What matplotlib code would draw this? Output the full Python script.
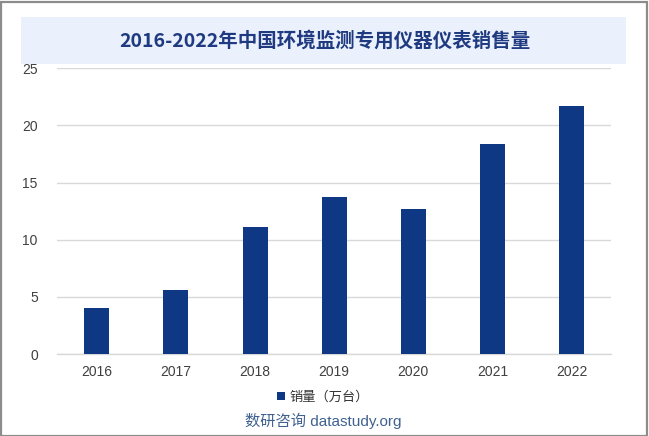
import matplotlib
matplotlib.use("Agg")
import matplotlib.pyplot as plt
from matplotlib.patches import Rectangle

plt.rcParams['font.family'] = ['Liberation Sans', 'Noto Sans CJK SC', 'DejaVu Sans']

years = ["2016", "2017", "2018", "2019", "2020", "2021", "2022"]
sales = [4.0, 5.6, 11.1, 13.7, 12.7, 18.4, 21.7]
yticks = [0, 5, 10, 15, 20, 25]
title = "2016-2022年中国环境监测专用仪器仪表销售量"
legend_label = "销量（万台）"
watermark = "数研咨询 datastudy.org"

W, H = 649, 436
fig = plt.figure(figsize=(W / 100, H / 100), dpi=100)
fig.patch.set_facecolor("white")

# outer border
fig.patches.append(Rectangle((0.5 / W, 0.5 / H), 1 - 2.5 / W, 1 - 2.5 / H, transform=fig.transFigure,
                             fill=False, edgecolor="#8c8c8c", linewidth=1.6))
# title band
fig.patches.append(Rectangle((21 / W, 1 - 64 / H), (626 - 21) / W, (64 - 17) / H, transform=fig.transFigure,
                             facecolor="#EAF1FC", edgecolor="none"))
fig.text(0.5, 1 - 40.5 / H, title, ha="center", va="center", fontsize=14,
         fontweight="bold", color="#1F3A80", family=['Noto Sans CJK SC', 'DejaVu Sans'])

ax = fig.add_axes([57.3 / W, 1 - 354 / H, (611 - 57.3) / W, (354 - 68.3) / H])
bars = ax.bar(years, sales, width=0.315, color="#0F3884", label=legend_label, zorder=3)
ax.set_ylim(0, 25)
ax.set_xlim(-0.5, len(years) - 0.5)
ax.set_yticks(yticks)
ax.yaxis.grid(True, color="#d9d9d9", linewidth=1.0, zorder=0)
for s in ["top", "right", "left"]:
    ax.spines[s].set_visible(False)
ax.spines["bottom"].set_color("#d9d9d9")
ax.spines["bottom"].set_linewidth(1.0)
ax.tick_params(axis="both", length=0, labelsize=10, colors="#404040")
ax.tick_params(axis="x", pad=8)
ax.tick_params(axis="y", pad=14)
for lbl in ax.get_yticklabels():
    lbl.set_horizontalalignment("right")

fig.legend(handles=[bars], labels=[legend_label], loc="center", bbox_to_anchor=(323 / W, 1 - 397 / H),
           frameon=False, fontsize=10, handlelength=0.6, handleheight=0.6, handletextpad=0.3,
           labelcolor="#333333", prop={'family': ['Noto Sans CJK SC', 'DejaVu Sans'], 'size': 9.5})
fig.text(323 / W, 1 - 421 / H, watermark, ha="center", va="center", fontsize=11, color="#3F6190")

fig.savefig("out.png", dpi=100)
